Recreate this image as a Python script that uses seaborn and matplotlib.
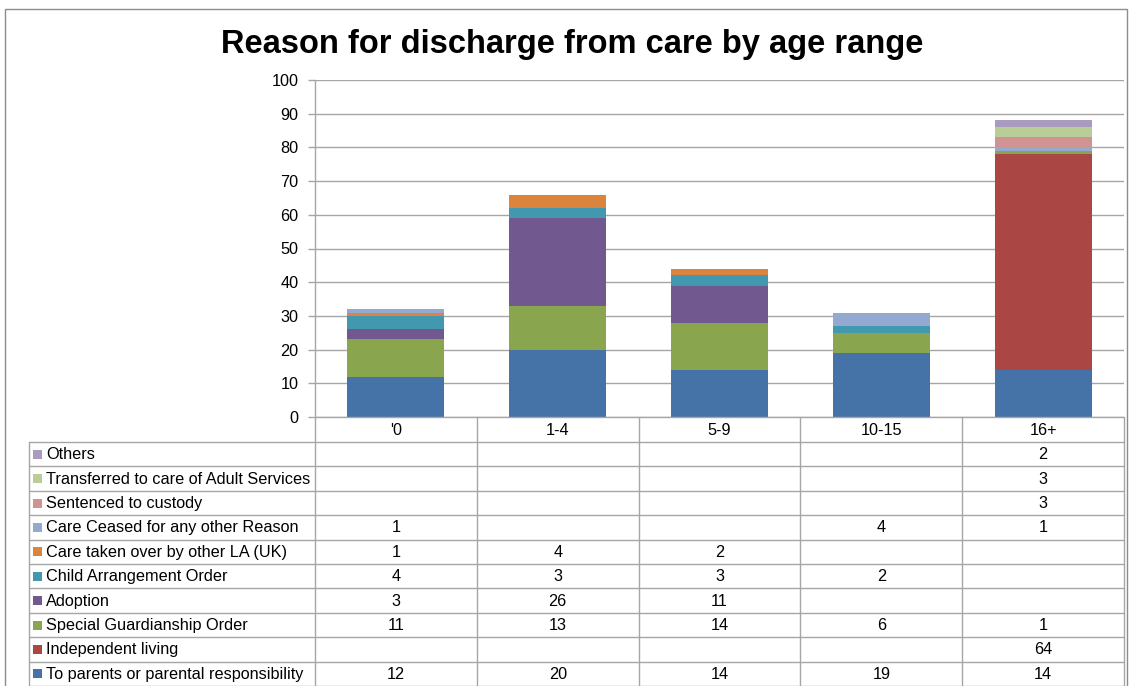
import matplotlib
matplotlib.use("Agg")
import matplotlib.pyplot as plt
import seaborn as sns
import numpy as np
import pandas as pd
from matplotlib.lines import Line2D
from matplotlib.patches import Rectangle

# ---------------- data ----------------
age_ranges = ["'0", "1-4", "5-9", "10-15", "16+"]

series_names = [
    "To parents or parental responsibility",
    "Independent living",
    "Special Guardianship Order",
    "Adoption",
    "Child Arrangement Order",
    "Care taken over by other LA (UK)",
    "Care Ceased for any other Reason",
    "Sentenced to custody",
    "Transferred to care of Adult Services",
    "Others",
]

to_parents = [12, 20, 14, 19, 14]
independent_living = [None, None, None, None, 64]
special_guardianship = [11, 13, 14, 6, 1]
adoption = [3, 26, 11, None, None]
child_arrangement = [4, 3, 3, 2, None]
care_taken_over = [1, 4, 2, None, None]
care_ceased = [1, None, None, 4, 1]
sentenced = [None, None, None, None, 3]
transferred_adult = [None, None, None, None, 3]
others = [None, None, None, None, 2]

series_values = [to_parents, independent_living, special_guardianship, adoption,
                 child_arrangement, care_taken_over, care_ceased, sentenced,
                 transferred_adult, others]

colors = ["#4572A7", "#AA4643", "#89A54E", "#71588F", "#4198AF",
          "#DB843D", "#93A9CF", "#D19392", "#B9CD96", "#A99BBD"]

y_ticks = list(range(0, 101, 10))

# ---------------- figure ----------------
W, H = 1129, 686
FONT = ["Liberation Sans", "DejaVu Sans"]
sns.set_theme(style="white")
plt.rcParams["font.family"] = FONT
plt.rcParams["text.color"] = "black"
plt.rcParams["ytick.labelcolor"] = "black"

fig = plt.figure(figsize=(W / 100, H / 100), dpi=100)
fig.patch.set_facecolor("white")


def fx(px):
    return px / W


def fy(py):
    return 1 - py / H


grid_c = "#a6a6a6"
line_c = "#a6a6a6"
FS = 11.7

# outer frame
fig.add_artist(Rectangle((fx(5), fy(700)), fx(1127) - fx(5), fy(9) - fy(700),
                         transform=fig.transFigure, fill=False,
                         edgecolor="#8c8c8c", linewidth=1.0))

# plot area
PL, PR, PT, PB = 315, 1124, 80, 417
ax = fig.add_axes([fx(PL), fy(PB), fx(PR) - fx(PL), fy(PT) - fy(PB)])

df = pd.DataFrame({
    "age": age_ranges * len(series_names),
    "series": np.repeat(series_names, len(age_ranges)),
    "value": [0 if v is None else v for vals in series_values for v in vals],
})

# stacked bars: draw cumulative totals from top layer down
cum = np.zeros(len(age_ranges))
cums = []
for name in series_names:
    cum = cum + df[df["series"] == name]["value"].to_numpy()
    cums.append(cum.copy())

for i in reversed(range(len(series_names))):
    sns.barplot(x=age_ranges, y=cums[i], order=age_ranges, color=colors[i],
                width=0.6, saturation=1, linewidth=0, errorbar=None, ax=ax)

ax.set_xlim(-0.5, len(age_ranges) - 0.5)
ax.set_ylim(0, 100)
ax.set_yticks(y_ticks)
ax.set_yticklabels([str(t) for t in y_ticks], fontsize=FS, color="black")
ax.set_xticks([])
ax.set_xlabel("")
ax.set_ylabel("")
ax.set_axisbelow(True)
ax.yaxis.grid(True, color=grid_c, linewidth=1.0)
ax.tick_params(axis="y", length=5, width=1, color=line_c, pad=7, left=True)
for s in ["top", "right", "bottom"]:
    ax.spines[s].set_visible(False)
ax.spines["left"].set_color(line_c)
ax.spines["left"].set_linewidth(1.0)
ax.set_facecolor("white")

# title
fig.text(fx(572), fy(44), "Reason for discharge from care by age range",
         ha="center", va="center", fontsize=23.5, fontweight="bold",
         color="black", family=FONT)

# ---------------- data table ----------------
col_w = (PR - PL) / len(age_ranges)
col_edges = [PL + k * col_w for k in range(len(age_ranges) + 1)]
TL = 29
head_top, head_bot = PB, 442
row_h = 24.4
n_rows = len(series_names)
bottom = head_bot + n_rows * row_h


def hline(y, x0, x1):
    fig.add_artist(Line2D([fx(x0), fx(x1)], [fy(y), fy(y)], transform=fig.transFigure,
                          color=line_c, linewidth=1.0))


def vline(x, y0, y1):
    fig.add_artist(Line2D([fx(x), fx(x)], [fy(y0), fy(y1)], transform=fig.transFigure,
                          color=line_c, linewidth=1.0))


hline(head_top, PL, PR)
for k in range(n_rows + 1):
    hline(head_bot + k * row_h, TL, PR)
vline(TL, head_bot, bottom + 5)
for xe in col_edges:
    vline(xe, head_top, bottom + 5)

# header labels
for j, lab in enumerate(age_ranges):
    fig.text(fx((col_edges[j] + col_edges[j + 1]) / 2), fy((head_top + head_bot) / 2 + 1),
             lab, ha="center", va="center", fontsize=FS, color="black", family=FONT)

# rows: top row is the last series
for r, i in enumerate(reversed(range(n_rows))):
    yc = head_bot + r * row_h + row_h / 2
    fig.add_artist(Rectangle((fx(33), fy(yc + 4.5)), fx(42) - fx(33), fy(yc - 4.5) - fy(yc + 4.5),
                             transform=fig.transFigure, facecolor=colors[i], edgecolor="none"))
    fig.text(fx(46), fy(yc + 0.5), series_names[i], ha="left", va="center",
             fontsize=FS, color="black", family=FONT)
    for j, v in enumerate(series_values[i]):
        if v is not None:
            fig.text(fx((col_edges[j] + col_edges[j + 1]) / 2), fy(yc + 0.5), str(v),
                     ha="center", va="center", fontsize=FS, color="black", family=FONT)

fig.savefig("out.png", dpi=100, facecolor="white")
